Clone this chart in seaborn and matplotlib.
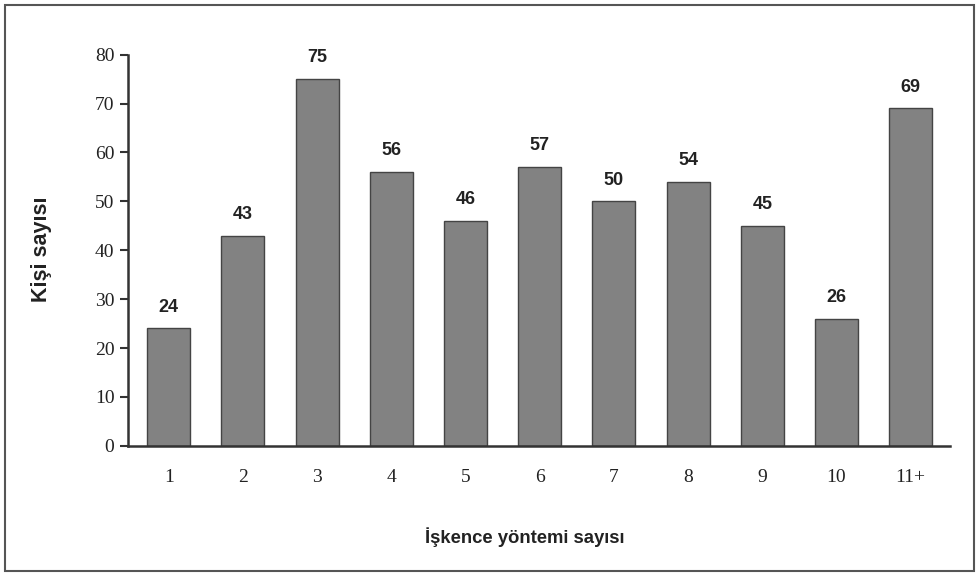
import matplotlib
matplotlib.use("Agg")
import matplotlib.pyplot as plt
import seaborn as sns
import pandas as pd
from matplotlib.patches import Rectangle

categories = ["1", "2", "3", "4", "5", "6", "7", "8", "9", "10", "11+"]
values = [24, 43, 75, 56, 46, 57, 50, 54, 45, 26, 69]
yticks = [0, 10, 20, 30, 40, 50, 60, 70, 80]

df = pd.DataFrame({"cat": categories, "val": values})

sns.set_theme(style="white")
plt.rcParams["font.family"] = ["Liberation Sans", "DejaVu Sans"]

fig = plt.figure(figsize=(9.79, 5.76), dpi=100)
ax = fig.add_axes([0.131, 0.226, 0.839, 0.679])

sns.barplot(data=df, x="cat", y="val", ax=ax, color="#828282",
            width=0.58, edgecolor="#444444", linewidth=1.0, saturation=1)

for i, v in enumerate(values):
    ax.text(i, v + 2.6, str(v), ha="center", va="bottom",
            fontsize=13, fontweight="bold", color="#222222")

ax.set_xlim(-0.545, 10.525)
ax.set_ylim(0, 80)
ax.set_yticks(yticks)
ax.set_yticklabels([str(t) for t in yticks], family="Liberation Serif",
                   fontsize=14, color="#222222")
ax.set_xticklabels(categories, family="Liberation Serif", fontsize=14,
                   color="#222222")
ax.tick_params(axis="y", direction="out", length=6, width=1.5,
               color="#333333", left=True, pad=4)
ax.tick_params(axis="x", length=0, pad=17)

for s in ["top", "right"]:
    ax.spines[s].set_visible(False)
for s in ["left", "bottom"]:
    ax.spines[s].set_color("#333333")
    ax.spines[s].set_linewidth(1.8)

ax.set_xlabel("")
ax.set_ylabel("")
fig.text(0.536, 0.068, "İşkence yöntemi sayısı", ha="center", va="center",
         fontsize=13.3, fontweight="bold", color="#222222")
fig.text(0.042, 0.568, "Kişi sayısı", ha="center", va="center",
         rotation=90, fontsize=15.5, fontweight="bold", color="#222222")

fig.patches.append(Rectangle((0.005, 0.008), 0.990, 0.984,
                             transform=fig.transFigure, fill=False,
                             edgecolor="#555555", linewidth=1.5))

fig.savefig("out.png", dpi=100, facecolor="white")
